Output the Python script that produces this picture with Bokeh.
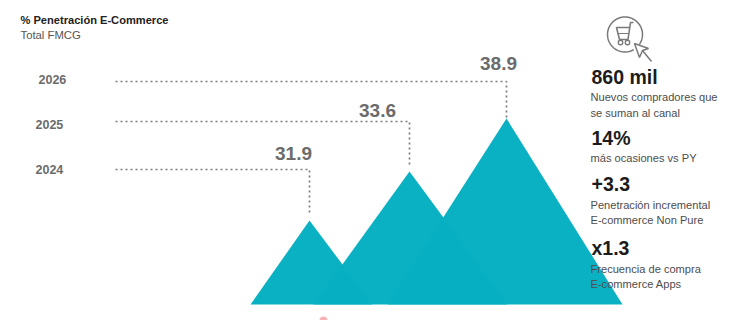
import numpy as np
from bokeh.core.properties import value
from bokeh.embed import file_html
from bokeh.models import Range1d
from bokeh.plotting import figure
from bokeh.resources import INLINE

# Chart content
title = "% Penetración E-Commerce"
subtitle = "Total FMCG"
years = ["2024", "2025", "2026"]
penetration = [31.9, 33.6, 38.9]
stat_heads = ["860 mil", "14%", "+3.3", "x1.3"]
stat_notes = [
    ["Nuevos compradores que", "se suman al canal"],
    ["más ocasiones vs PY"],
    ["Penetración incremental", "E-commerce Non Pure"],
    ["Frecuencia de compra", "E-commerce Apps"],
]

# Layout, in page pixels (the y range runs top-down)
FONT = value("Liberation Sans")
TEAL = "#06B0C2"
GREY = "#6b6b6b"
BASE_Y = 304
mountains = [
    {"left": 250, "peak": (309, 220), "right": 372},
    {"left": 313, "peak": (409, 171), "right": 507},
    {"left": 387, "peak": (506, 118), "right": 622},
]
leader_y = [169, 121, 81]
leader_start = 115
leader_end_gap = [5, 5, 1]
year_pos = [(35, 169), (35, 124), (38, 79)]
value_pos = [(293, 153), (377, 110), (498, 63)]
stat_x = 591
head_y = [76, 137, 183, 247]
note_y = [[96, 112], [157], [204, 219], [268, 283]]

p = figure(
    width=732, height=320, output_backend="svg", toolbar_location=None,
    x_range=Range1d(0, 732), y_range=Range1d(320, 0),
    min_border=0, outline_line_color=None, background_fill_color="white",
    border_fill_color="white",
)
p.axis.visible = False
p.grid.visible = False


def label(x, y, txt, size, color, style="normal", align="left"):
    p.text([x], [y], text=[txt], text_font=FONT, text_font_size=f"{size}px",
           text_color=color, text_font_style=style, text_align=align,
           text_baseline="middle")


# Overlapping mountains; the alpha lets the overlaps read very slightly darker
for m in mountains:
    px, py = m["peak"]
    p.patch([m["left"], px, m["right"]], [BASE_Y, py, BASE_Y],
            fill_color=TEAL, fill_alpha=0.985, line_color=None)

# Dotted leaders from each year across to its peak
for m, ly, gap in zip(mountains, leader_y, leader_end_gap):
    px, py = m["peak"]
    p.line([leader_start, px, px], [ly, ly, py - gap], line_color="#7d7d7d",
           line_width=1.7, line_dash="2 3")

# Year labels and peak values
for yr, (x, y) in zip(years, year_pos):
    label(x, y, yr, 12.5, GREY, "bold")
for val, (x, y) in zip(penetration, value_pos):
    label(x, y, f"{val:.1f}", 19, GREY, "bold", "center")

# Heading
label(20, 19, title, 11.1, "#222222", "bold")
label(20, 34, subtitle, 11.3, "#555555")

# Right-hand column of figures with their notes
for head, hy, notes, nys in zip(stat_heads, head_y, stat_notes, note_y):
    label(stat_x, hy, head, 19.5, "#1c1c1c", "bold")
    for note, ny in zip(notes, nys):
        label(stat_x - 1, ny, note, 11.1, "#4d4d4d")

# Cart-and-pointer icon
ICON = "#7a7a7a"
theta = np.radians(np.linspace(60, 395, 80))
p.line(624.5 + 17.5 * np.cos(theta), 34 + 17.5 * np.sin(theta),
       line_color=ICON, line_width=1.5)
p.line([633, 630, 627.5, 619, 616, 630], [22, 22, 39, 39, 27, 27],
       line_color=ICON, line_width=1.6)
p.line([617.5, 628.5], [33, 33], line_color=ICON, line_width=1.2)
p.scatter([620, 627], [42, 42], size=4.5, marker="circle", fill_color="white",
          line_color=ICON, line_width=1.3)
p.patch([634, 648, 642, 639], [43, 48, 50, 57], fill_color="white",
        line_color=ICON, line_width=1.5)
p.line([642, 651], [50, 61], line_color=ICON, line_width=1.5)

# Red speck at the bottom edge
p.scatter([323], [320], size=8, marker="circle", fill_color="#f4808a",
          fill_alpha=0.6, line_color=None)

open("out.html", "w").write(file_html(p, INLINE))
